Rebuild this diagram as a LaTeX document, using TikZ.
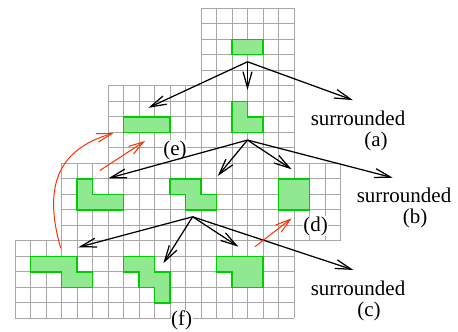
\documentclass[tikz,border=0pt]{standalone}
\usepackage{fontspec}
\setmainfont{Liberation Serif}
\usetikzlibrary{arrows.meta}
\definecolor{gridgray}{RGB}{168,168,168}
\definecolor{shapefill}{RGB}{144,232,144}
\definecolor{shapeline}{RGB}{0,205,0}
\definecolor{redarrow}{RGB}{255,45,0}
\newcommand\gridrect[4]{%
  \foreach \i in {#1,...,#3} \draw[gridline] (\i,#2) -- (\i,#4);
  \foreach \j in {#2,...,#4} \draw[gridline] (#1,\j) -- (#3,\j);
}
\begin{document}
\begin{tikzpicture}[x=15.5pt,y=-15.5pt,
  gridline/.style={draw=gridgray,line width=0.9pt},
  polyo/.style={fill=shapefill,draw=shapeline,line width=1.4pt},
  blackarrow/.style={draw=black,line width=1.25pt,-{Straight Barb[length=16pt,width=9pt]}},
  redarr/.style={draw=redarrow,line width=1pt,-{Straight Barb[length=15pt,width=9pt]}},
  lbl/.style={font=\fontsize{21}{24}\selectfont, inner sep=0pt},
  plbl/.style={lbl, fill=white, inner sep=0.5pt}]
\useasboundingbox (-0.968,-0.535) rectangle (28.58,20.82);
% grids
\gridrect{12}{0}{18}{5}
\gridrect{6}{5}{18}{10}
\gridrect{3}{10}{21}{15}
\gridrect{0}{15}{18}{20}
% polyominoes
\draw[polyo] (14,2) rectangle (16,3);
\draw[polyo] (14,6) -- (15,6) -- (15,7) -- (16,7) -- (16,8) -- (14,8) -- cycle;
\draw[polyo] (7,7) rectangle (10,8);
\draw[polyo] (4,11) -- (5,11) -- (5,12) -- (7,12) -- (7,13) -- (4,13) -- cycle;
\draw[polyo] (10,11) -- (12,11) -- (12,12) -- (13,12) -- (13,13) -- (11,13) -- (11,12) -- (10,12) -- cycle;
\draw[polyo] (17,11) rectangle (19,13);
\draw[polyo] (1,16) -- (4,16) -- (4,17) -- (5,17) -- (5,18) -- (3,18) -- (3,17) -- (1,17) -- cycle;
\draw[polyo] (7,16) -- (9,16) -- (9,17) -- (10,17) -- (10,19) -- (9,19) -- (9,18) -- (8,18) -- (8,17) -- (7,17) -- cycle;
\draw[polyo] (13,16) -- (16,16) -- (16,18) -- (14,18) -- (14,17) -- (13,17) -- cycle;
% labels
\node[plbl] (le) at (10.32,9.14) {(e)};
\node[plbl] (ld) at (19.39,14.05) {(d)};
\node[plbl] (lf) at (10.75,20.11) {(f)};
\node[lbl] (sa) at (22.13,7.10) {surrounded};
\node[lbl] (la) at (23.29,8.62) {(a)};
\node[lbl] (sb) at (25.10,12.08) {surrounded};
\node[lbl] (lb) at (25.81,13.55) {(b)};
\node[lbl] (sc) at (22.13,18.07) {surrounded};
\node[lbl] (lc) at (22.84,19.58) {(c)};
% connector coordinates
\coordinate (o1) at (15,3.45);
\coordinate (t1e) at (8.6,6.42);
\coordinate (t1l) at (15,5.27);
\coordinate (t1a) at (21.79,5.92);
\coordinate (o2) at (15,8.5);
\coordinate (t2l) at (6.02,10.97);
\coordinate (t2s) at (13.08,10.82);
\coordinate (t2q) at (17.85,10.39);
\coordinate (t2b) at (24.37,10.93);
\coordinate (o3) at (11.46,13.45);
\coordinate (t3a) at (4.08,15.42);
\coordinate (t3b) at (9.57,16.45);
\coordinate (t3c) at (14.41,15.38);
\coordinate (t3s) at (21.83,16.88);
\coordinate (r1s) at (2.95,15.48);
\coordinate (r1e) at (6.34,8.06);
\coordinate (r2s) at (5.48,10.46);
\coordinate (r2e) at (8.39,8.56);
\coordinate (r3s) at (15.48,15.38);
\coordinate (r3e) at (17.85,13.55);
% black arrows
\draw[blackarrow] (o1) -- (t1e);
\draw[blackarrow] (o1) -- (t1l);
\draw[blackarrow] (o1) -- (t1a);
\draw[blackarrow] (o2) -- (t2l);
\draw[blackarrow] (o2) -- (t2s);
\draw[blackarrow] (o2) -- (t2q);
\draw[blackarrow] (o2) -- (t2b);
\draw[blackarrow] (o3) -- (t3a);
\draw[blackarrow] (o3) -- (t3b);
\draw[blackarrow] (o3) -- (t3c);
\draw[blackarrow] (o3) -- (t3s);
% red arrows
\draw[redarr] (r1s) .. controls (1.87,11.72) and (2.58,9.14) .. (r1e);
\draw[redarr] (r2s) -- (r2e);
\draw[redarr] (r3s) -- (r3e);
\end{tikzpicture}
\end{document}
